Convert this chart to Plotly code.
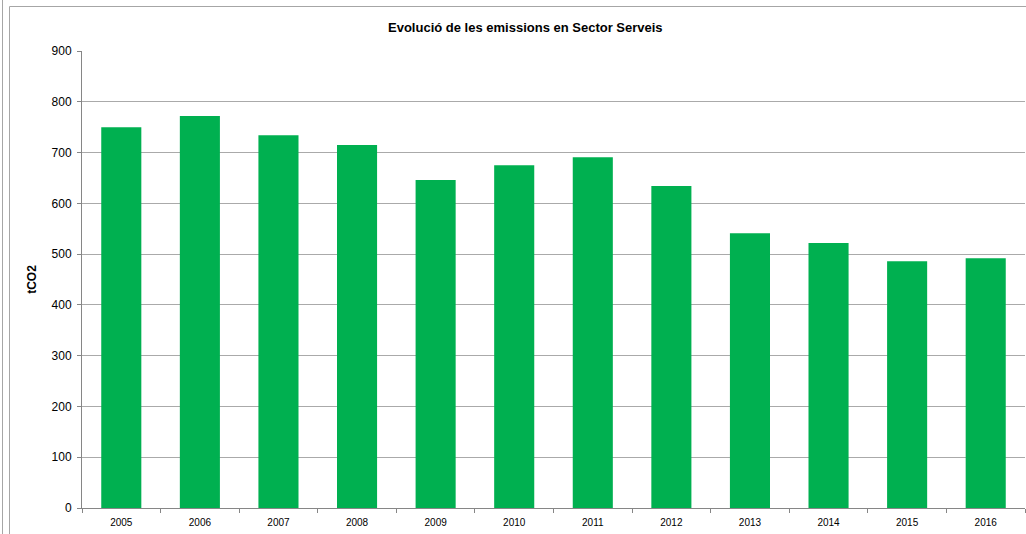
import plotly.graph_objects as go

years = ["2005", "2006", "2007", "2008", "2009", "2010", "2011", "2012", "2013", "2014", "2015", "2016"]
emissions = [750, 772, 734, 715, 646, 675, 691, 634, 541, 522, 486, 492]

fig = go.Figure()
fig.add_trace(go.Bar(x=years, y=emissions, marker=dict(color="#00B050", line=dict(width=0)),
                     width=0.51))

fig.update_layout(
    width=1026, height=534,
    margin=dict(l=82, r=1, t=51, b=26),
    paper_bgcolor="white", plot_bgcolor="white",
    showlegend=False,
    title=dict(text="<b>Evolució de les emissions en Sector Serveis</b>",
               x=0.512, xanchor="center", y=0.949, yanchor="middle",
               font=dict(family="Liberation Sans, Arial", size=13, color="black")),
    font=dict(family="Liberation Sans, Arial", color="black"),
)
fig.update_yaxes(range=[0, 900], dtick=100, showgrid=True, gridcolor="#aaaaaa", gridwidth=1,
                 showline=True, linecolor="#868686", linewidth=1,
                 ticks="outside", ticklen=4, tickcolor="#868686", ticklabelstandoff=3,
                 tickfont=dict(size=12, family="Liberation Sans, Arial"),
                 zeroline=False,
                 title=dict(text="<b>tCO2</b>", font=dict(size=12), standoff=12))
fig.update_xaxes(showline=True, linecolor="#868686", linewidth=1,
                 ticks="outside", ticklen=4, tickcolor="#868686", tickson="boundaries",
                 ticklabelstandoff=5,
                 tickfont=dict(size=10, family="Liberation Sans, Arial"),
                 showgrid=False)

# chart frame lines
fy = (534 - 6.5 - 26) / 457
fig.add_shape(type="line", xref="paper", yref="paper", x0=-72.5/943, x1=1.01, y0=fy, y1=fy,
              line=dict(color="#a6a6a6", width=1))
fig.add_shape(type="line", xref="paper", yref="paper", x0=-72.5/943, x1=-72.5/943, y0=-0.1, y1=fy,
              line=dict(color="#a6a6a6", width=1))
fig.add_shape(type="line", xref="paper", yref="paper", x0=-79.5/943, x1=-79.5/943, y0=-0.1, y1=1.2,
              line=dict(color="#a6a6a6", width=1))

fig.write_html("out.html", config={"displayModeBar": False},
               post_script="document.body.style.margin='0';document.body.style.overflow='hidden';")
